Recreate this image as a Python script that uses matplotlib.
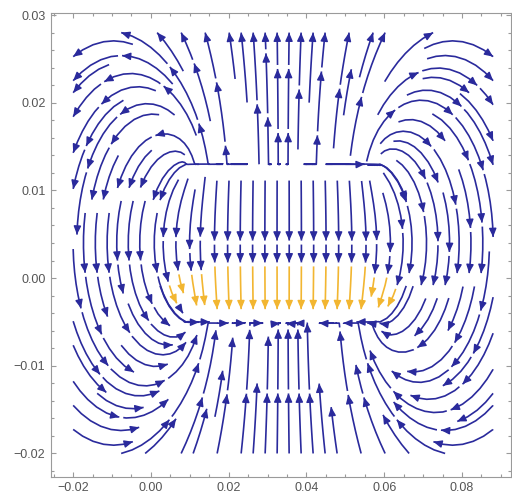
import numpy as np
import matplotlib
matplotlib.use("Agg")
import matplotlib.pyplot as plt
from matplotlib.ticker import MultipleLocator, FuncFormatter

plt.rcParams['font.family'] = ['Liberation Sans', 'DejaVu Sans']

# ---- data ----
x_range = (-0.02, 0.088)          # region covered by streamlines
y_range = (-0.02, 0.028)
plate_x = (0.0087, 0.0593)        # extent of both plates
plate_y = [0.013, -0.005]         # top plate, bottom plate
plate_charge = [1.0, -1.0]        # surface charge densities
plate_half_depth = 0.012          # half size of the plates out of the plane
band_y = 0.0022                   # height where streamlines inside the gap turn yellow
x_ticks = [-0.02, 0.00, 0.02, 0.04, 0.06, 0.08]
y_ticks = [-0.02, -0.01, 0.00, 0.01, 0.02, 0.03]
x_lim = (-0.0257, 0.0926)
y_lim = (-0.02265, 0.0302)
blue, yellow = '#2a2a9c', '#f2b631'


def plate_field(X, Y, a, b, y0, h, sig, zero_on_plate):
    d = Y - y0
    on = np.abs(d) < 1e-7
    d = np.where(on, 1e-7, d)
    ua, ub = X - a, X - b
    ta = np.sqrt(ua ** 2 + d ** 2 + h ** 2)
    tb = np.sqrt(ub ** 2 + d ** 2 + h ** 2)
    fa = np.log(ua ** 2 + d ** 2) - 2 * np.log(ta + h)
    fb = np.log(ub ** 2 + d ** 2) - 2 * np.log(tb + h)
    ex = sig * (fa - fb)
    ey = 2 * sig * (np.arctan(h * ua / (d * ta)) - np.arctan(h * ub / (d * tb)))
    if zero_on_plate:
        ey = np.where(on, 0.0, ey)
    return ex, ey


def plate_potential(X, Y, a, b, y0, h, n=160):
    s = a + (np.arange(n) + 0.5) * (b - a) / n
    phi = np.zeros_like(X)
    for si in s:
        rho = np.sqrt((X - si) ** 2 + (Y - y0) ** 2) + 2e-5
        phi += 2 * np.arcsinh(h / rho)
    return phi * (b - a) / n


nx, ny = 361, 321
xs = np.linspace(*x_range, nx)
ys = np.linspace(*y_range, ny)
X, Y = np.meshgrid(xs, ys)

E1x, E1y = np.zeros_like(X), np.zeros_like(X)   # field used for the filling lines
E2x, E2y = np.zeros_like(X), np.zeros_like(X)   # same field, tangential on the plates
for y0, q in zip(plate_y, plate_charge):
    ex, ey = plate_field(X, Y, plate_x[0], plate_x[1], y0, plate_half_depth, q, False)
    E1x += ex
    E1y += ey
    ex, ey = plate_field(X, Y, plate_x[0], plate_x[1], y0, plate_half_depth, q, True)
    E2x += ex
    E2y += ey

# share of the bottom plate in the potential: decides the yellow band
P_top = plate_potential(X, Y, plate_x[0], plate_x[1], plate_y[0], plate_half_depth)
P_bot = plate_potential(X, Y, plate_x[0], plate_x[1], plate_y[1], plate_half_depth)
share = P_bot / (P_top + P_bot)
xm = np.array([[0.5 * (plate_x[0] + plate_x[1])]])
ym = np.array([[band_y]])
pt = plate_potential(xm, ym, plate_x[0], plate_x[1], plate_y[0], plate_half_depth)[0, 0]
pb = plate_potential(xm, ym, plate_x[0], plate_x[1], plate_y[1], plate_half_depth)[0, 0]
share0 = pb / (pt + pb)

fig = plt.figure(figsize=(5.12, 4.98), dpi=100)
ax = fig.add_axes([51 / 512, 21.3 / 498, 460 / 512, 463.4 / 498])
ax.set_xlim(*x_lim)
ax.set_ylim(*y_lim)

sx = 460 / (x_lim[1] - x_lim[0])
sy = 463.4 / (y_lim[1] - y_lim[0])
down = -E1y * sy / np.hypot(E1x * sx, E1y * sy)
C = ((share > share0) & (down > 0.9)).astype(float)


def chain(sp):
    segs = sp.lines.get_segments()
    vals = np.asarray(sp.lines.get_array())
    sp.lines.remove()
    for p in list(ax.patches):
        p.remove()
    out = []
    if len(segs) == 0:
        return out
    cur, curv = [segs[0][0], segs[0][1]], [vals[0]]
    for sg, v in zip(segs[1:], vals[1:]):
        if np.allclose(sg[0], cur[-1], rtol=0, atol=1e-12):
            cur.append(sg[1])
            curv.append(v)
        else:
            out.append((np.array(cur), np.array(curv)))
            cur, curv = [sg[0], sg[1]], [v]
    out.append((np.array(cur), np.array(curv)))
    return out


# field lines filling the plane
sp = ax.streamplot(xs, ys, E1x, E1y, color=C, density=(1.2, 1.2),
                   linewidth=1.0, arrowsize=0.5)
lines = chain(sp)

# field lines running along the plates
starts = []
for y0 in plate_y:
    starts += [(plate_x[0] + 0.0004, y0), (plate_x[1] - 0.0004, y0)]
sp2 = ax.streamplot(xs, ys, E2x, E2y, color=C, start_points=np.array(starts),
                    linewidth=1.0, arrowsize=0.5, broken_streamlines=False,
                    maxlength=0.26)
for pts, cv in chain(sp2):
    keep = (pts[:, 0] > plate_x[0] - 0.011) & (pts[:, 0] < plate_x[1] + 0.011)
    idx = np.where(keep)[0]
    if len(idx) > 2:
        i0, i1 = idx[0], idx[-1]
        lines.append((pts[i0:i1 + 1], np.zeros(i1 - i0)))

PIECE, GAP, TAIL, MINP = 60.0, 4.0, 5.0, 12.0
for pts, cv in lines:
    px = pts[:, 0] * sx
    py = pts[:, 1] * sy
    sl = np.concatenate([[0], np.cumsum(np.hypot(np.diff(px), np.diff(py)))])
    total = sl[-1]
    if total < 6:
        continue
    segc = np.asarray(cv) > 0.5
    start = 0.0
    while start < total - 4:
        end = min(start + PIECE, total)
        if total - end < 18:
            end = total
        j0 = min(max(np.searchsorted(sl, start, side='right') - 1, 0), len(segc) - 1)
        c0 = segc[j0]
        change = np.where(segc[j0:] != c0)[0]
        if len(change):
            sc = sl[j0 + change[0]]
            if start + MINP < sc < end:
                end = sc
        inner = sl[(sl > start) & (sl < end)]
        ss = np.concatenate([[start], inner, [end]])
        xd = np.interp(ss, sl, pts[:, 0])
        yd = np.interp(ss, sl, pts[:, 1])
        mid = 0.5 * (start + end)
        jm = min(max(np.searchsorted(sl, mid) - 1, 0), len(segc) - 1)
        col = yellow if segc[jm] else blue
        ax.plot(xd, yd, color=col, lw=1.2, solid_capstyle='butt')
        st = max(end - TAIL, start)
        ax.annotate('', xy=(np.interp(end, sl, pts[:, 0]), np.interp(end, sl, pts[:, 1])),
                    xytext=(np.interp(st, sl, pts[:, 0]), np.interp(st, sl, pts[:, 1])),
                    arrowprops=dict(arrowstyle='-|>,head_length=0.5,head_width=0.22',
                                    color=col, lw=1.0, shrinkA=0, shrinkB=0,
                                    mutation_scale=10))
        start = end + GAP

ax.set_xlim(*x_lim)
ax.set_ylim(*y_lim)

fmt = FuncFormatter(lambda v, p: ("%.2f" % v).replace('-', '\u2212') if abs(v) > 1e-12 else "0.00")
ax.set_xticks(x_ticks)
ax.set_yticks(y_ticks)
ax.xaxis.set_major_formatter(fmt)
ax.yaxis.set_major_formatter(fmt)
ax.xaxis.set_minor_locator(MultipleLocator(0.005))
ax.yaxis.set_minor_locator(MultipleLocator(0.002))
ax.tick_params(which='both', direction='in', top=True, right=True,
               colors='#9a9a9a', labelcolor='#555555', labelsize=9, width=0.8)
ax.tick_params(which='major', length=3.5, pad=4)
ax.tick_params(which='minor', length=2)
for s in ax.spines.values():
    s.set_color('#9a9a9a')
    s.set_linewidth(0.8)

fig.savefig('out.png', dpi=100)
